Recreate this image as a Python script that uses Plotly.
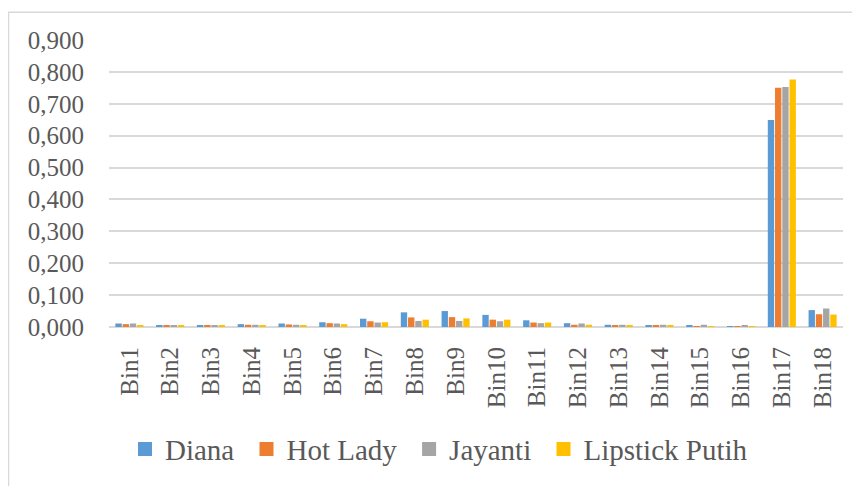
import plotly.graph_objects as go

categories = ["Bin%d" % i for i in range(1, 19)]

diana = [0.011, 0.004, 0.006, 0.009, 0.011, 0.015, 0.026, 0.046, 0.050, 0.038,
         0.021, 0.012, 0.007, 0.004, 0.004, 0.003, 0.649, 0.053]
hot_lady = [0.009, 0.004, 0.004, 0.007, 0.008, 0.012, 0.018, 0.030, 0.031, 0.023,
            0.014, 0.007, 0.004, 0.004, 0.003, 0.001, 0.750, 0.040]
jayanti = [0.011, 0.004, 0.004, 0.007, 0.007, 0.011, 0.014, 0.019, 0.019, 0.018,
           0.012, 0.011, 0.007, 0.007, 0.007, 0.004, 0.753, 0.058]
lipstick_putih = [0.006, 0.004, 0.004, 0.004, 0.004, 0.009, 0.015, 0.023, 0.027, 0.023,
                  0.014, 0.007, 0.004, 0.004, 0.003, 0.001, 0.776, 0.039]

series_names = ["Diana", "Hot Lady", "Jayanti", "Lipstick Putih"]
series_values = [diana, hot_lady, jayanti, lipstick_putih]
colors = ["#5B9BD5", "#ED7D31", "#A5A5A5", "#FFC000"]

y_tick_vals = [0.0, 0.1, 0.2, 0.3, 0.4, 0.5, 0.6, 0.7, 0.8, 0.9]
y_tick_text = ["0,000", "0,100", "0,200", "0,300", "0,400", "0,500",
               "0,600", "0,700", "0,800", "0,900"]

FONT = "Liberation Serif, Times New Roman, serif"
TXT = "#595959"
GRID = "#D9D9D9"

fig = go.Figure()
for name, vals, col in zip(series_names, series_values, colors):
    fig.add_trace(go.Bar(x=categories, y=vals, name=name, showlegend=False,
                         marker=dict(color=col, line=dict(width=0))))
# legend entries with larger square keys
for name, col in zip(series_names, colors):
    fig.add_trace(go.Scatter(x=[None], y=[None], mode="markers",
                             name=name + "\u00a0",
                             marker=dict(symbol="square", size=14, color=col,
                                         line=dict(width=0)),
                             hoverinfo="skip"))

# page body has an 8px margin; figure sits at (8,8)
OFF = 8
W, H = 860 - OFF, 486 - OFF
L, R, T, B = 101, 17, 32, 157
pw = W - L - R
ph = H - T - B

def px_x(px):
    return (px - OFF - L) / pw

def px_y(py):
    return (H - B - (py - OFF)) / ph

fig.update_layout(
    width=W, height=H,
    margin=dict(l=L, r=R, t=T, b=B, pad=0),
    paper_bgcolor="white", plot_bgcolor="white",
    barmode="group", bargap=0.29, bargroupgap=0.12,
    font=dict(family=FONT, color=TXT, size=25),
    showlegend=True,
    legend=dict(orientation="h", x=px_x(125), xanchor="left",
                y=px_y(452), yanchor="middle",
                font=dict(family=FONT, size=29, color=TXT),
                itemwidth=30, bgcolor="rgba(0,0,0,0)"),
    xaxis=dict(type="category", showgrid=False, showline=False, zeroline=False,
               tickangle=-90, ticks="", ticklabelstandoff=14,
               tickfont=dict(family=FONT, size=25, color=TXT)),
    yaxis=dict(range=[0, 0.9], tickvals=y_tick_vals, ticktext=y_tick_text,
               showgrid=True, gridcolor=GRID, gridwidth=1.5,
               zeroline=True, zerolinecolor=GRID, zerolinewidth=1.5,
               showline=False, ticks="", ticklabelstandoff=24,
               tickfont=dict(family=FONT, size=25, color=TXT)),
    shapes=[dict(type="rect", xref="paper", yref="paper",
                 x0=px_x(8.5), x1=px_x(900), y0=px_y(540), y1=px_y(12),
                 line=dict(color=GRID, width=1.5), fillcolor="rgba(0,0,0,0)",
                 layer="below")],
)

fig.write_html("out.html")
